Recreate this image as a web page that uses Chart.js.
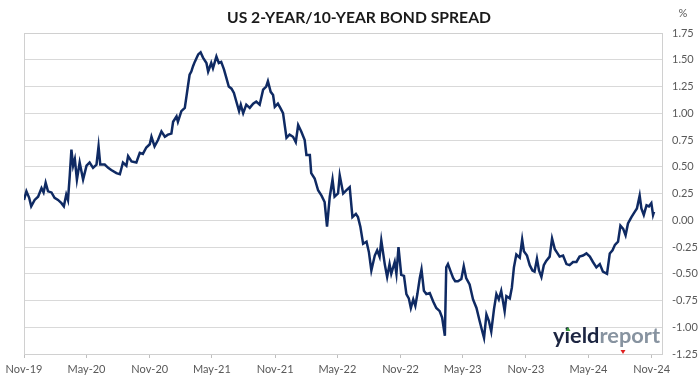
<!DOCTYPE html>
<html><head><meta charset="utf-8">
<script src="https://cdn.jsdelivr.net/npm/chart.js@4/dist/chart.umd.min.js"></script>
<style>html,body{margin:0;padding:0;background:#fff}#wrap{width:699px;height:385px;position:relative}</style>
</head><body><div id="wrap"><canvas id="c"></canvas></div>
<script>
// ---- data ----
const chartTitle = 'US 2-YEAR/10-YEAR BOND SPREAD';
const unitLabel = '%';
const startDate = '2019-11-01';
const endDate = '2024-12-01';
const tickDates = ['2019-11-01','2020-05-01','2020-11-01','2021-05-01','2021-11-01','2022-05-01','2022-11-01','2023-05-01','2023-11-01','2024-05-01','2024-11-01'];
const tickLabels = ['Nov-19','May-20','Nov-20','May-21','Nov-21','May-22','Nov-22','May-23','Nov-23','May-24','Nov-24'];
// days after 1 Nov 2019
const days = [0,7,15,21,31,41,51,57,63,70,80,89,99,109,116,123,128,133,138,143,148,154,162,172,182,191,201,211,217,222,235,245,254,269,279,288,298,303,313,327,337,346,356,366,371,380,390,400,410,419,429,434,444,448,458,468,473,477,482,487,492,497,507,514,521,531,536,545,550,560,567,574,582,589,596,604,611,618,626,631,638,647,657,667,676,686,696,705,710,718,725,730,739,746,754,761,764,773,783,791,798,807,817,822,832,836,846,856,866,875,882,890,898,904,914,919,929,938,948,956,966,972,979,987,997,1004,1011,1021,1028,1035,1040,1050,1057,1064,1069,1079,1084,1090,1098,1106,1113,1120,1126,1133,1139,1145,1152,1157,1164,1171,1181,1191,1200,1210,1217,1225,1229,1234,1242,1249,1255,1263,1273,1280,1287,1297,1307,1317,1326,1334,1339,1346,1353,1360,1368,1375,1382,1389,1399,1404,1414,1420,1426,1433,1443,1450,1455,1464,1472,1480,1486,1493,1499,1506,1513,1520,1530,1537,1545,1551,1559,1569,1579,1588,1598,1608,1617,1627,1637,1647,1656,1666,1676,1685,1697,1705,1713,1720,1729,1736,1744,1751,1758,1768,1778,1784,1792,1797,1804,1812,1819,1826,1831,1834];
const spread = [0.19,0.27,0.21,0.13,0.19,0.22,0.30,0.26,0.35,0.27,0.26,0.21,0.19,0.16,0.13,0.24,0.19,0.41,0.66,0.51,0.57,0.38,0.54,0.38,0.51,0.54,0.49,0.52,0.69,0.52,0.52,0.49,0.47,0.44,0.43,0.54,0.51,0.60,0.55,0.54,0.63,0.62,0.68,0.71,0.78,0.69,0.75,0.83,0.78,0.80,0.81,0.92,0.97,0.92,1.02,1.05,1.16,1.25,1.36,1.39,1.44,1.48,1.55,1.57,1.52,1.47,1.39,1.47,1.42,1.53,1.47,1.48,1.41,1.33,1.25,1.23,1.19,1.11,1.02,1.08,1.00,1.08,1.05,1.09,1.11,1.08,1.22,1.25,1.30,1.20,1.17,1.06,1.09,1.05,1.00,0.84,0.77,0.80,0.78,0.73,0.89,0.83,0.75,0.61,0.61,0.44,0.39,0.28,0.23,0.17,-0.06,0.22,0.38,0.22,0.25,0.42,0.25,0.28,0.31,0.03,0.06,0.03,-0.06,-0.22,-0.20,-0.30,-0.47,-0.33,-0.28,-0.34,-0.19,-0.41,-0.53,-0.41,-0.50,-0.39,-0.50,-0.25,-0.51,-0.52,-0.69,-0.73,-0.82,-0.74,-0.80,-0.69,-0.54,-0.46,-0.66,-0.69,-0.68,-0.76,-0.82,-0.85,-0.91,-1.08,-0.44,-0.41,-0.48,-0.54,-0.57,-0.57,-0.55,-0.43,-0.54,-0.60,-0.74,-0.82,-0.94,-1.04,-1.10,-0.88,-0.94,-1.04,-0.83,-0.69,-0.74,-0.66,-0.85,-0.71,-0.73,-0.63,-0.44,-0.32,-0.35,-0.18,-0.29,-0.33,-0.42,-0.47,-0.48,-0.36,-0.47,-0.53,-0.42,-0.38,-0.34,-0.17,-0.27,-0.30,-0.34,-0.33,-0.41,-0.42,-0.39,-0.39,-0.34,-0.33,-0.31,-0.34,-0.39,-0.44,-0.41,-0.48,-0.50,-0.31,-0.28,-0.23,-0.20,-0.05,-0.08,-0.14,-0.03,0.03,0.08,0.11,0.23,0.11,0.05,0.14,0.13,0.16,0.05,0.08];
const yMin = -1.25, yMax = 1.75, yStep = 0.25;

// ---- helpers ----
const dayOf = d => Math.round((Date.parse(d) - Date.parse(startDate)) / 86400000);
const tickValues = tickDates.map(dayOf);
const labelByValue = {};
tickValues.forEach((v, i) => { labelByValue[v] = tickLabels[i]; });
const points = days.map((d, i) => ({ x: d, y: spread[i] }));

const FONT = 'Lato, "Open Sans", sans-serif';
const TXT = '#595959';

const decor = {
  id: 'decor',
  beforeDatasetsDraw(chart) {
    const { ctx, chartArea: a } = chart;
    ctx.save();
    ctx.strokeStyle = '#d0d0d0';
    ctx.lineWidth = 1;
    ctx.strokeRect(Math.round(a.left) + 0.5, Math.round(a.top) + 0.5, Math.round(a.right - a.left), Math.round(a.bottom - a.top));
    ctx.restore();
  },
  afterDraw(chart) {
    const { ctx, chartArea: a } = chart;
    ctx.save();
    // title
    ctx.fillStyle = '#1a1a1a';
    ctx.font = 'bold 16px ' + FONT;
    ctx.textAlign = 'center';
    ctx.textBaseline = 'middle';
    ctx.fillText(chartTitle, 359, 18, 264);
    // unit
    ctx.fillStyle = TXT;
    ctx.font = '11px ' + FONT;
    ctx.fillText(unitLabel, 683, 13);
    // watermark
    ctx.textAlign = 'left';
    ctx.textBaseline = 'alphabetic';
    ctx.font = 'bold 21px ' + FONT;
    const w1 = ctx.measureText('yield').width;
    const w2 = ctx.measureText('report').width;
    const sc = 107 / (w1 + w2);
    ctx.translate(553, 343);
    ctx.scale(sc, 1);
    ctx.fillStyle = '#1c2541';
    ctx.fillText('yield', 0, 0);
    ctx.fillStyle = '#8793a0';
    ctx.fillText('report', w1, 0);
    ctx.restore();
    ctx.save();
    ctx.fillStyle = '#3a9a3a';
    ctx.beginPath(); ctx.moveTo(565.5, 331); ctx.lineTo(568, 327); ctx.lineTo(570.5, 331); ctx.closePath(); ctx.fill();
    ctx.fillStyle = '#e02020';
    ctx.beginPath(); ctx.moveTo(620.5, 350); ctx.lineTo(625.5, 350); ctx.lineTo(623, 354); ctx.closePath(); ctx.fill();
    ctx.restore();
  }
};

new Chart(document.getElementById('c'), {
  type: 'line',
  data: {
    datasets: [{
      data: points,
      borderColor: '#0f2a63',
      borderWidth: 2.5,
      pointRadius: 0,
      tension: 0,
      fill: false
    }]
  },
  options: {
    responsive: true,
    maintainAspectRatio: false,
    animation: false,
    devicePixelRatio: 1,
    layout: { padding: { left: 24, top: 33, right: 0, bottom: 0 } },
    plugins: { legend: { display: false }, tooltip: { enabled: false }, title: { display: false } },
    scales: {
      x: {
        type: 'linear',
        min: 0,
        max: dayOf(endDate),
        afterBuildTicks: s => { s.ticks = tickValues.map(v => ({ value: v })); },
        afterFit: s => { s.height = 31; },
        ticks: {
          autoSkip: false, maxRotation: 0, minRotation: 0,
          color: TXT, font: { family: FONT, size: 11 }, padding: 5,
          callback: v => labelByValue[v] || ''
        },
        grid: { drawOnChartArea: false, drawTicks: true, tickLength: 4, color: '#bfbfbf' },
        border: { display: true, color: '#bfbfbf' }
      },
      y: {
        position: 'right',
        min: yMin, max: yMax,
        afterFit: s => { s.width = 37; },
        ticks: {
          stepSize: yStep, color: TXT, font: { family: FONT, size: 11 }, padding: 10,
          callback: v => v.toFixed(2)
        },
        grid: { color: '#d9d9d9', drawTicks: false, lineWidth: 1 },
        border: { display: true, color: '#d0d0d0' }
      }
    }
  },
  plugins: [decor]
});
</script>
</body></html>
